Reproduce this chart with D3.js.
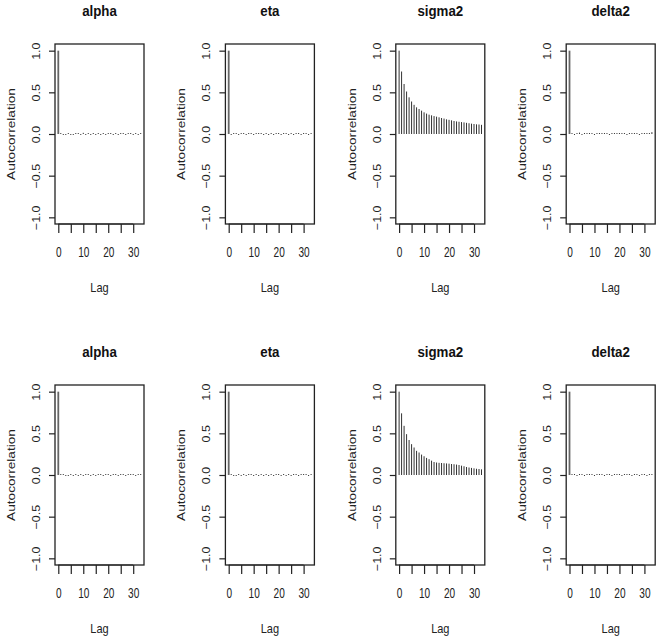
<!DOCTYPE html>
<html lang="en">
<head>
<meta charset="UTF-8">
<title>Autocorrelation plots</title>
<script src="https://d3js.org/d3.v7.min.js"></script>
<style>
  body { margin: 0; background: #fff; font-family: 'Liberation Sans', Arial, sans-serif; }
  svg { display: block; }
</style>
</head>
<body>
<svg width="657" height="639"></svg>
<script>
// lags 0..33
const lags = d3.range(0, 34);
const params = ["alpha", "eta", "sigma2", "delta2"];

// top row (chain 1)
const alpha1  = [1, 0.002, -0.005, -0.008, 0.004, -0.006, -0.004, 0.006, 0.003, -0.003, 0.014, -0.005, 0.004, -0.006, 0.003, -0.009, 0.005, -0.004, 0.006, -0.007, 0.004, 0.007, -0.003, 0.006, -0.005, 0.008, 0.004, -0.006, 0.005, 0.003, -0.008, 0.006, -0.004, 0.002];
const eta1    = [1, -0.006, 0.004, 0.006, -0.004, 0.007, 0.005, -0.003, 0.008, 0.004, -0.005, 0.006, 0.003, 0.007, -0.004, 0.005, -0.006, 0.004, -0.005, 0.006, 0.004, -0.006, 0.007, 0.003, -0.004, 0.006, -0.005, 0.008, 0.004, -0.006, 0.005, 0.007, -0.004, 0.006];
const sigma21 = [1, 0.75, 0.60, 0.51, 0.44, 0.39, 0.35, 0.32, 0.30, 0.28, 0.26, 0.245, 0.232, 0.224, 0.215, 0.208, 0.200, 0.192, 0.185, 0.176, 0.170, 0.164, 0.156, 0.151, 0.147, 0.143, 0.139, 0.134, 0.129, 0.124, 0.120, 0.116, 0.114, 0.110];
const delta21 = [1, 0.004, -0.006, 0.008, 0.016, -0.005, 0.006, 0.009, 0.004, 0.007, -0.004, 0.008, 0.006, 0.010, 0.004, 0.006, -0.003, 0.005, 0.004, 0.006, 0.003, 0.005, 0.004, -0.004, 0.005, 0.003, 0.004, 0.006, -0.005, 0.007, 0.009, 0.004, 0.008, 0.022];

// bottom row (chain 2)
const alpha2  = [1, 0.006, 0.004, -0.006, -0.004, 0.005, -0.007, 0.006, -0.004, 0.005, -0.006, 0.004, 0.007, -0.005, 0.004, -0.006, 0.006, 0.008, -0.004, 0.006, 0.005, -0.005, 0.007, 0.004, -0.004, 0.006, 0.005, -0.003, 0.007, 0.004, 0.006, -0.004, 0.008, 0.003];
const eta2    = [1, 0.004, -0.003, -0.005, 0.003, -0.004, 0.005, -0.004, 0.003, 0.004, -0.005, 0.006, -0.004, 0.003, -0.005, 0.004, -0.003, 0.006, -0.004, 0.005, 0.004, -0.003, 0.011, -0.004, 0.005, -0.003, 0.006, 0.007, -0.004, 0.005, 0.008, 0.004, -0.003, 0.005];
const sigma22 = [1, 0.74, 0.59, 0.49, 0.42, 0.37, 0.33, 0.29, 0.27, 0.245, 0.225, 0.205, 0.19, 0.172, 0.156, 0.150, 0.146, 0.144, 0.141, 0.139, 0.136, 0.132, 0.129, 0.125, 0.120, 0.112, 0.105, 0.096, 0.090, 0.085, 0.080, 0.075, 0.072, 0.068];
const delta22 = [1, 0.005, 0.006, -0.004, 0.007, 0.004, -0.005, 0.008, 0.006, 0.004, -0.004, 0.007, 0.005, 0.009, -0.004, 0.006, 0.005, -0.003, 0.007, 0.004, 0.006, -0.004, 0.008, 0.005, 0.004, -0.005, 0.006, 0.004, -0.004, 0.005, 0.006, -0.003, 0.005, 0.004];

const rows = [
  [alpha1, eta1, sigma21, delta21],
  [alpha2, eta2, sigma22, delta22]
];

const xTicks = [0, 5, 10, 15, 20, 25, 30];
const xLabels = [0, 10, 20, 30];
const yTicks = [-1, -0.5, 0, 0.5, 1];

const svg = d3.select("svg");

const boxW = 89, boxH = 180;
const colStep = 170.4, rowStep = 341;
const left0 = 55, top0 = 44;
const font = "'Liberation Sans', Arial, sans-serif";

rows.forEach((row, r) => {
  row.forEach((vals, c) => {
    const bx = left0 + c * colStep;
    const by = top0 + r * rowStep;
    const g = svg.append("g");

    const x = d3.scaleLinear().domain([-1.32, 34.32]).range([bx, bx + boxW]);
    const y = d3.scaleLinear().domain([-1.08, 1.08]).range([by + boxH, by]);

    // bars
    g.selectAll("line.bar")
      .data(lags)
      .join("line")
      .attr("class", "bar")
      .attr("x1", d => x(d)).attr("x2", d => x(d))
      .attr("y1", y(0))
      .attr("y2", d => {
        const v = vals[d];
        const yy = y(v);
        // tiny values still show as a short tick, like R does
        if (Math.abs(yy - y(0)) < 1) return y(0) + (v >= 0 ? -1 : 1);
        return yy;
      })
      .attr("stroke", d => d === 0 && c !== 2 ? "#666" : "#333")
      .attr("stroke-width", d => d === 0 && c !== 2 ? 1.8 : 1);

    // box
    g.append("rect")
      .attr("x", bx).attr("y", by)
      .attr("width", boxW).attr("height", boxH)
      .attr("fill", "none")
      .attr("stroke", "#222")
      .attr("stroke-width", 1.3);

    // y axis, labels parallel to the axis
    const yAxis = g.append("g")
      .attr("transform", `translate(${bx},0)`)
      .call(d3.axisLeft(y).tickValues(yTicks).tickSize(6).tickFormat(d3.format(".1f")));
    yAxis.select(".domain").remove();
    yAxis.selectAll("line").attr("stroke", "#222").attr("stroke-width", 1.2);
    yAxis.selectAll("text")
      .attr("transform", "translate(-19,0) rotate(-90) scale(1.04,0.95)")
      .attr("x", 0).attr("y", 0)
      .attr("dy", "0.35em")
      .attr("text-anchor", "middle")
      .style("font-family", font)
      .style("font-size", "12px")
      .style("fill", "#222");

    // x axis
    const xAxis = g.append("g")
      .attr("transform", `translate(0,${by + boxH})`)
      .call(d3.axisBottom(x).tickValues(xTicks).tickSize(9)
        .tickFormat(d => xLabels.includes(d) ? d : ""));
    xAxis.select(".domain")
      .attr("d", `M${x(0)},0H${x(30)}`)
      .attr("stroke", "#222").attr("stroke-width", 1.2);
    xAxis.selectAll("line").attr("stroke", "#222").attr("stroke-width", 1.2);
    xAxis.selectAll("text")
      .attr("transform", "translate(0,28) scale(0.84,1.15)")
      .attr("y", 0)
      .attr("dy", "0.35em")
      .style("font-family", font)
      .style("font-size", "12px")
      .style("fill", "#222");

    // titles
    g.append("text")
      .attr("transform", `translate(${bx + boxW / 2},${by - 33}) scale(0.95,1.05)`)
      .attr("dy", "0.35em")
      .attr("text-anchor", "middle")
      .attr("font-weight", "bold")
      .attr("font-size", "14px")
      .attr("fill", "#111")
      .text(params[c]);

    g.append("text")
      .attr("transform", `translate(${bx + boxW / 2},${by + boxH + 63}) scale(0.88,1.08)`)
      .attr("dy", "0.35em")
      .attr("text-anchor", "middle")
      .attr("font-size", "12.5px")
      .attr("fill", "#222")
      .text("Lag");

    g.append("text")
      .attr("transform", `translate(${bx - 44},${y(0)}) rotate(-90) scale(1.14,0.9)`)
      .attr("dy", "0.35em")
      .attr("text-anchor", "middle")
      .attr("font-size", "12px")
      .attr("fill", "#222")
      .text("Autocorrelation");
  });
});
</script>
</body>
</html>
